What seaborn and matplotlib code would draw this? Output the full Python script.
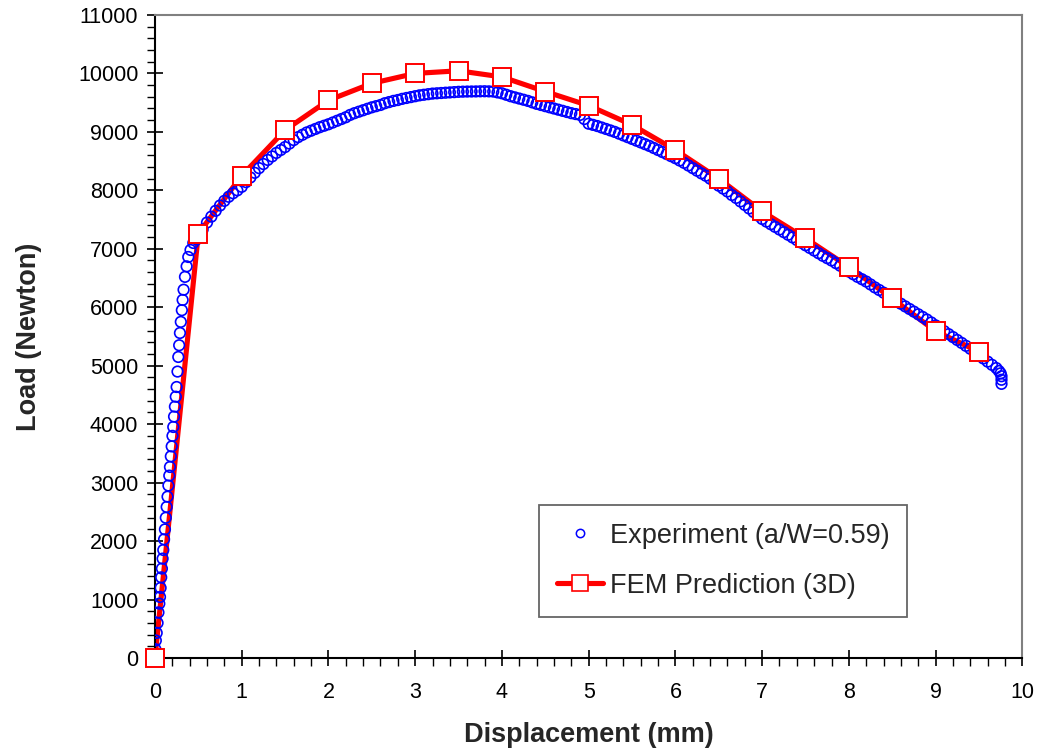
import matplotlib
matplotlib.use("Agg")
import matplotlib.pyplot as plt
from matplotlib.lines import Line2D
from matplotlib.ticker import MultipleLocator
import seaborn as sns
import pandas as pd

# ---------------- data ----------------
fem_disp = [0.0, 0.5, 1.0, 1.5, 2.0, 2.5, 3.0, 3.5, 4.0, 4.5,
            5.0, 5.5, 6.0, 6.5, 7.0, 7.5, 8.0, 8.5, 9.0, 9.5]
fem_load = [0, 7260, 8250, 9030, 9540, 9830, 10000, 10045, 9940, 9690,
            9450, 9120, 8690, 8200, 7640, 7180, 6690, 6150, 5590, 5240]

# initial elastic rise of the experiment
exp_rise_disp = [0.0, 0.005, 0.01, 0.02, 0.03, 0.04, 0.05, 0.058, 0.065, 0.072,
                 0.08, 0.088, 0.096, 0.105, 0.115, 0.125, 0.135, 0.145, 0.155, 0.165,
                 0.173, 0.183, 0.193, 0.202, 0.211, 0.22, 0.23, 0.24, 0.25, 0.26,
                 0.269, 0.279, 0.288, 0.298, 0.31, 0.319, 0.33, 0.346, 0.365, 0.384,
                 0.41, 0.442, 0.48]
exp_rise_load = [0, 150, 300, 430, 600, 780, 930, 1044, 1200, 1380,
                 1530, 1700, 1848, 2030, 2200, 2400, 2584, 2760, 2950, 3120,
                 3268, 3450, 3620, 3800, 3952, 4130, 4300, 4470, 4636, 4900,
                 5150, 5350, 5560, 5750, 5950, 6125, 6300, 6520, 6700, 6860,
                 6980, 7100, 7160]

# plastic part of the experiment
exp_disp = [0.50, 0.55, 0.60, 0.65, 0.70, 0.75, 0.80, 0.85, 0.90, 0.95,
            1.00, 1.05, 1.10, 1.15, 1.20, 1.25, 1.30, 1.35, 1.40, 1.45,
            1.50, 1.55, 1.60, 1.65, 1.70, 1.75, 1.80, 1.85, 1.90, 1.95,
            2.00, 2.05, 2.10, 2.15, 2.20, 2.25, 2.30, 2.35, 2.40, 2.45,
            2.50, 2.55, 2.60, 2.65, 2.70, 2.75, 2.80, 2.85, 2.90, 2.95,
            3.00, 3.05, 3.10, 3.15, 3.20, 3.25, 3.30, 3.35, 3.40, 3.45,
            3.50, 3.55, 3.60, 3.65, 3.70, 3.75, 3.80, 3.85, 3.90, 3.95,
            4.00, 4.05, 4.10, 4.15, 4.20, 4.25, 4.30, 4.35, 4.40, 4.45,
            4.50, 4.55, 4.60, 4.65, 4.70, 4.75, 4.80, 4.85, 4.90, 4.95,
            5.00, 5.05, 5.10, 5.15, 5.20, 5.25, 5.30, 5.35, 5.40, 5.45,
            5.50, 5.55, 5.60, 5.65, 5.70, 5.75, 5.80, 5.85, 5.90, 5.95,
            6.00, 6.05, 6.10, 6.15, 6.20, 6.25, 6.30, 6.35, 6.40, 6.45,
            6.50, 6.55, 6.60, 6.65, 6.70, 6.75, 6.80, 6.85, 6.90, 6.95,
            7.00, 7.05, 7.10, 7.15, 7.20, 7.25, 7.30, 7.35, 7.40, 7.45,
            7.50, 7.55, 7.60, 7.65, 7.70, 7.75, 7.80, 7.85, 7.90, 7.95,
            8.00, 8.05, 8.10, 8.15, 8.20, 8.25, 8.30, 8.35, 8.40, 8.45,
            8.50, 8.55, 8.60, 8.65, 8.70, 8.75, 8.80, 8.85, 8.90, 8.95,
            9.00, 9.05, 9.10, 9.15, 9.20, 9.25, 9.30, 9.35, 9.40, 9.45,
            9.50, 9.55, 9.60, 9.65, 9.70, 9.73, 9.75, 9.76, 9.76, 9.76]
exp_load = [7200, 7330, 7450, 7550, 7650, 7740, 7820, 7890, 7950, 8000,
            8060, 8140, 8220, 8300, 8380, 8450, 8520, 8580, 8640, 8690,
            8740, 8800, 8860, 8910, 8950, 8990, 9020, 9050, 9080, 9105,
            9130, 9160, 9190, 9220, 9250, 9290, 9320, 9345, 9370, 9395,
            9420, 9440, 9460, 9490, 9510, 9530, 9545, 9565, 9580, 9595,
            9610, 9625, 9635, 9645, 9655, 9660, 9665, 9670, 9675, 9680,
            9685, 9688, 9690, 9691, 9692, 9694, 9695, 9693, 9690, 9675,
            9660, 9635, 9610, 9590, 9570, 9550, 9530, 9505, 9480, 9460,
            9440, 9420, 9400, 9380, 9360, 9340, 9320, 9305, 9290, 9220,
            9140, 9120, 9100, 9075, 9050, 9025, 9000, 8970, 8940, 8910,
            8880, 8850, 8820, 8790, 8760, 8725, 8690, 8655, 8620, 8585,
            8550, 8510, 8470, 8425, 8380, 8335, 8290, 8250, 8200, 8140,
            8080, 8030, 7980, 7920, 7870, 7810, 7750, 7690, 7630, 7570,
            7510, 7465, 7420, 7375, 7330, 7285, 7240, 7195, 7150, 7105,
            7060, 7015, 6970, 6925, 6880, 6840, 6800, 6755, 6710, 6660,
            6610, 6565, 6520, 6480, 6440, 6390, 6340, 6295, 6250, 6205,
            6160, 6110, 6060, 6015, 5970, 5925, 5880, 5835, 5790, 5740,
            5690, 5640, 5590, 5540, 5490, 5440, 5390, 5340, 5290, 5235,
            5180, 5125, 5070, 5015, 4960, 4910, 4870, 4820, 4760, 4690]

x_ticks = list(range(0, 11))
y_ticks = list(range(0, 11001, 1000))
label_exp = "Experiment (a/W=0.59)"
label_fem = "FEM Prediction (3D)"
x_title = "Displacement (mm)"
y_title = "Load (Newton)"

# ---------------- plot ----------------
sns.set_style("white")
plt.rcParams["font.family"] = ["Liberation Sans", "DejaVu Sans"]

exp_df = pd.DataFrame({"disp": exp_rise_disp + exp_disp,
                       "load": exp_rise_load + exp_load})
fem_df = pd.DataFrame({"disp": fem_disp, "load": fem_load})

fig = plt.figure(figsize=(10.4, 7.48), dpi=100)
ax = fig.add_axes([0.149, 0.1203, 0.834, 0.8597])

red = "#FF0000"
blue = "#0000FF"

# FEM line (underneath experiment points)
sns.lineplot(data=fem_df, x="disp", y="load", ax=ax, color=red, linewidth=3.7,
             sort=False, estimator=None, zorder=2)
# experiment scatter
sns.scatterplot(data=exp_df, x="disp", y="load", ax=ax, marker="o", s=58,
                facecolors="none", edgecolor=blue, linewidth=1.2, zorder=3)
# FEM squares on top
ax.plot(fem_disp, fem_load, linestyle="none", marker="s", markersize=13,
        markerfacecolor="white", markeredgecolor=red, markeredgewidth=1.4,
        zorder=4, clip_on=False)

ax.set_xlim(0, 10)
ax.set_ylim(0, 11000)
ax.set_xticks(x_ticks)
ax.set_yticks(y_ticks)
ax.xaxis.set_minor_locator(MultipleLocator(0.2))
ax.yaxis.set_minor_locator(MultipleLocator(200))

ax.tick_params(axis="both", which="major", direction="inout", length=12,
               width=1.2, color="black", labelsize=15.5, labelcolor="black")
ax.tick_params(axis="x", which="major", pad=11)
ax.tick_params(axis="y", which="major", pad=6)
ax.tick_params(axis="both", which="minor", direction="out", length=6,
               width=1.0, color="black")
ax.tick_params(axis="both", which="both", bottom=True, left=True,
               top=False, right=False)

for side in ["left", "bottom"]:
    ax.spines[side].set_color("black")
    ax.spines[side].set_linewidth(1.5)
for side in ["top", "right"]:
    ax.spines[side].set_color("#808080")
    ax.spines[side].set_linewidth(1.5)

ax.set_xlabel(x_title, fontsize=19.5, fontweight="bold", labelpad=14)
ax.set_ylabel(y_title, fontsize=19.5, fontweight="bold", labelpad=26)

handles = [
    Line2D([], [], linestyle="none", marker="o", markersize=6,
           markerfacecolor="none", markeredgecolor=blue, markeredgewidth=1.1),
    Line2D([], [], color=red, linewidth=3.7, marker="s", markersize=12,
           markerfacecolor="white", markeredgecolor=red, markeredgewidth=1.2),
]
leg = ax.legend(handles, [label_exp, label_fem], loc="upper left",
                bbox_to_anchor=(0.443, 0.238), fontsize=19.5, frameon=True,
                fancybox=False, shadow=False, borderpad=0.65, labelspacing=0.9,
                handlelength=1.7, handletextpad=0.25, borderaxespad=0)
leg.get_frame().set_edgecolor("#404040")
leg.get_frame().set_linewidth(1.3)

fig.savefig("out.png", dpi=100)
